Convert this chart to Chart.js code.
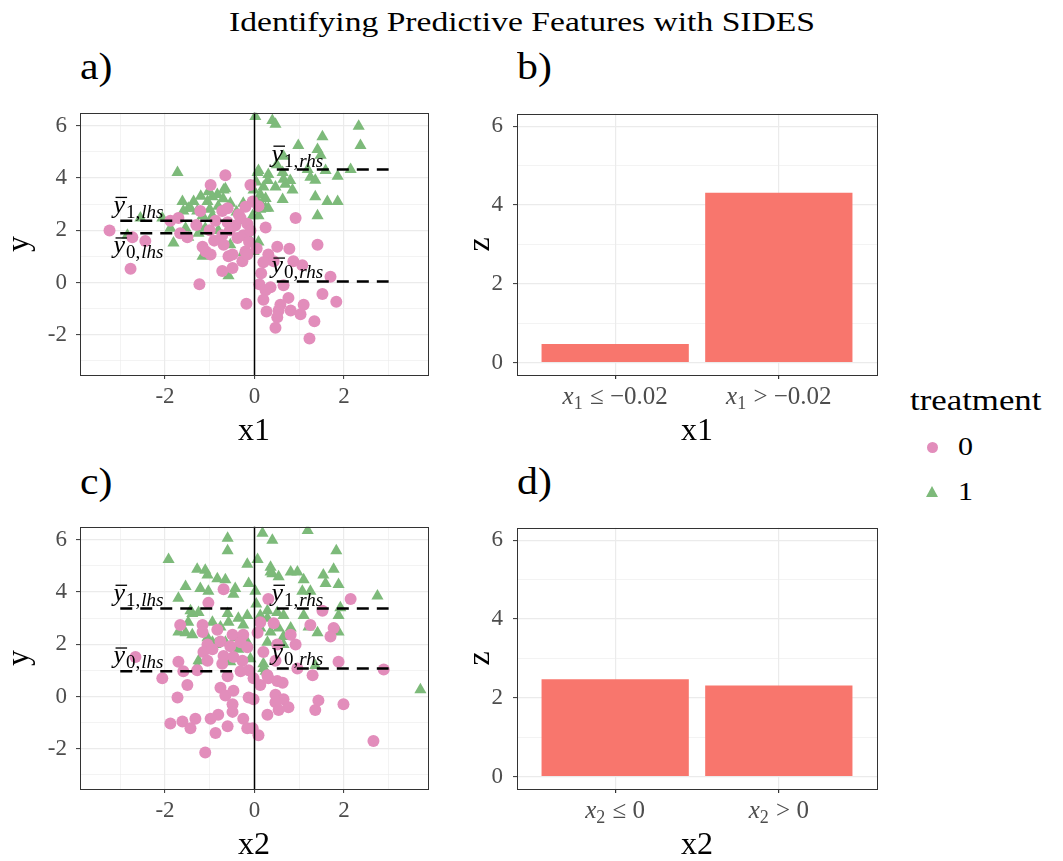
<!DOCTYPE html>
<html lang="en">
<head>
<meta charset="UTF-8">
<title>Identifying Predictive Features with SIDES</title>
<script src="https://cdn.jsdelivr.net/npm/chart.js@4.4.1/dist/chart.umd.min.js"></script>
<style>
    body {
        margin: 0;
        width: 1063px;
        height: 861px;
        overflow: hidden;
        background: #fff;
        position: relative;
        font-family: 'Liberation Serif', serif;
        color: #000;
    }
    .panel { position: absolute; width: 450px; height: 370px; }
    .tag { position: absolute; font-size: 38px; line-height: 1; transform: scaleX(1.1); transform-origin: left top; }
    #title { position: absolute; left: 0; top: 8px; width: 1044px; text-align: center; font-size: 28px; line-height: 1; transform: scaleX(1.2); transform-origin: 522px 0; }
    .legtxt { position: absolute; line-height: 1; transform: scaleX(1.2); transform-origin: left top; }
    .dot { position: absolute; width: 11px; height: 11px; border-radius: 50%; background: #E28DBB; }
    .tri { position: absolute; width: 0; height: 0; border-left: 6px solid transparent; border-right: 6px solid transparent; border-bottom: 11px solid #7DBA7A; }
</style>
</head>
<body>
<div id="title">Identifying Predictive Features with SIDES</div>
<div class="tag" style="left:80px;top:47px">a)</div>
<div class="tag" style="left:517px;top:47px">b)</div>
<div class="tag" style="left:80px;top:462px">c)</div>
<div class="tag" style="left:517px;top:462px">d)</div>

<div class="panel" style="left:0;top:90px;width:440px"><canvas id="chartA"></canvas></div>
<div class="panel" style="left:440px;top:90px"><canvas id="chartB"></canvas></div>
<div class="panel" style="left:0;top:504px;width:440px"><canvas id="chartC"></canvas></div>
<div class="panel" style="left:440px;top:504px"><canvas id="chartD"></canvas></div>

<div class="legtxt" style="left:910px;top:386px;font-size:29px">treatment</div>
<div class="dot" style="left:927px;top:442px"></div>
<div class="legtxt" style="left:958px;top:434px;font-size:25px">0</div>
<div class="tri" style="left:926px;top:486px"></div>
<div class="legtxt" style="left:958px;top:479px;font-size:25px">1</div>

<script>
// ---- data ----
const pinkA = [[-3.24,1.99],[-2.77,0.52],[-2.44,1.59],[-2.73,1.73],[-1.88,2.36],[-1.70,2.47],[-1.66,1.88],[-1.50,1.73],[-1.23,-0.07],[-1.16,1.37],[-1.09,1.18],[-0.98,1.07],[-0.98,3.73],[-0.65,4.10],[-0.72,2.73],[-0.60,2.84],[-0.72,1.81],[-0.69,1.44],[-0.72,0.44],[-0.49,0.55],[-0.58,1.00],[-0.49,1.07],[-0.38,1.70],[-0.25,1.81],[-0.43,2.18],[-0.31,2.47],[-0.16,2.25],[-0.09,1.99],[-0.20,1.18],[-0.27,0.81],[-0.16,1.07],[-0.09,3.73],[-0.18,-0.81],[0.25,2.10],[0.92,2.47],[0.31,1.07],[0.51,1.37],[0.78,1.29],[1.41,1.44],[0.43,0.81],[0.20,0.77],[0.87,0.81],[1.07,0.66],[1.70,0.22],[0.11,-0.07],[0.25,-0.30],[0.36,-0.18],[0.65,-0.11],[1.52,-0.44],[1.83,-0.74],[0.20,-0.66],[0.76,-0.59],[0.58,-0.85],[1.10,-0.85],[0.27,-1.11],[0.54,-1.07],[0.81,-1.07],[1.03,-1.22],[0.51,-1.33],[1.34,-1.48],[0.47,-1.73],[1.23,-2.14],[-0.04,3.10],[0.09,2.92],[-0.87,2.36],[-1.21,2.73],
    [-1.30,2.20],[-0.90,1.60],[-0.55,2.00],[-0.35,2.60],[-1.00,2.00],[-0.20,2.90],[-0.60,2.30],[-0.12,1.55],[0.05,1.30],[0.15,0.35]];
const greenA = [[-1.72,4.21],[-0.69,3.54],[-0.94,3.28],[-1.05,3.10],[-1.61,3.10],[-1.48,2.84],[-2.55,2.47],[-2.84,1.81],[-0.65,3.58],[-0.83,3.36],[-1.03,3.47],[-1.36,3.10],[-1.43,2.84],[-1.59,2.73],[-1.28,2.73],[-1.16,2.55],[-0.94,2.55],[-0.81,2.92],[-0.54,3.03],[-0.25,3.03],[-0.04,2.55],[-1.25,2.18],[-1.54,2.07],[-1.48,1.73],[-1.25,1.88],[-1.10,2.07],[-0.81,1.99],[-0.02,1.18],[-2.06,2.47],[-1.88,2.07],[-1.81,1.51],[-1.16,1.00],[-0.58,0.26],[-0.25,1.14],[-0.02,3.54],[-0.31,2.36],[-0.54,1.44],[-0.16,1.81],
    [-1.20,3.30],[-0.70,3.20],[-0.40,2.70],[-1.00,2.80],
    [0.02,6.35],[0.40,6.20],[0.47,6.05],[2.33,5.98],[1.52,5.57],[2.37,5.24],[0.98,5.24],[1.41,5.09],[1.48,4.87],[0.65,4.83],[0.07,4.21],[0.31,4.13],[0.63,4.21],[0.65,3.95],[1.19,4.32],[1.25,4.02],[1.36,3.91],[1.59,4.28],[1.86,4.06],[2.15,4.32],[0.69,3.76],[0.85,3.54],[0.20,3.65],[0.13,3.36],[0.07,3.10],[0.25,2.84],[1.36,3.28],[1.63,3.10],[1.86,3.10],[0.63,3.17],[1.41,2.55],[0.09,2.55],[0.09,4.28],[0.47,3.65],[0.25,3.21],[0.13,2.80],[0.31,2.84],[0.09,1.55],[0.04,3.84],
    [0.30,3.90],[0.50,4.50],[0.15,3.00],[0.80,3.90]];
const pinkC = [[-0.69,4.10],[-1.03,3.58],[-1.66,2.73],[-1.16,2.73],[-1.16,2.47],[-0.83,2.55],[-0.49,2.36],[-0.25,2.36],[-1.05,1.99],[-0.76,2.10],[-0.54,1.92],[-0.31,2.07],[-0.16,1.88],[-1.14,1.70],[-0.69,1.55],[-0.47,1.51],[-0.27,1.37],[-1.70,1.33],[-1.59,0.96],[-1.05,1.37],[-0.72,1.25],[-0.31,0.96],[-0.13,1.00],[-0.02,0.70],[0.31,3.73],[0.13,2.84],[0.43,2.80],[0.81,2.36],[0.51,1.99],[0.20,1.70],[0.47,1.37],[0.29,0.81],[0.92,1.99],[2.15,3.73],[1.52,3.28],[1.25,2.73],[1.77,2.62],[1.70,2.29],[0.07,2.44],[-2.66,1.51],[-2.06,0.70],[-1.50,0.44],[-1.72,-0.04],[-0.76,0.33],[-0.60,0.77],[-0.47,0.22],[-0.65,0.04],[-0.49,-0.30],[-0.13,-0.04],[-0.49,-0.59],[-0.81,-0.70],[-0.98,-0.85],[-1.32,-0.85],[-1.61,-0.96],[-1.43,-1.22],[-1.88,-1.03],[-0.60,-1.14],[-0.25,-0.85],[-0.16,-1.22],[-0.87,-1.40],[-1.10,-2.14],[1.88,1.33],[1.30,0.81],[0.96,1.07],[2.89,1.03],[0.13,0.44],[0.31,0.70],[0.51,0.59],[0.63,0.52],[0.47,0.07],[0.65,-0.11],[-0.02,-0.11],[0.47,-0.22],[0.76,-0.41],[0.54,-0.52],[0.29,-0.70],[1.36,-0.52],[1.43,-0.15],[1.99,-0.30],[-0.04,-1.22],[0.09,-1.48],[2.66,-1.70],[-1.28,1.00],[-0.94,1.81]];
const greenC = [[-0.60,6.05],[-0.60,5.57],[-1.92,5.24],[-1.28,4.87],[-1.10,4.83],[-1.05,4.65],[-0.83,4.50],[-0.65,4.46],[-0.16,5.06],[-0.13,4.32],[-1.54,4.21],[-1.21,4.13],[-1.03,4.02],[-0.47,3.91],[-1.70,3.76],[-1.39,3.17],[-1.25,3.21],[-1.48,2.84],[-0.60,3.17],[-0.36,2.99],[-0.16,3.10],[-0.94,2.84],[-0.76,2.66],[-0.58,2.84],[-0.25,2.73],[-1.70,2.47],[-1.54,2.44],[-0.87,1.99],[-1.39,2.36],[-1.05,2.25],[-0.94,2.07],[-0.65,2.07],[-0.43,2.25],[-0.36,1.81],[-0.16,2.07],[-1.25,1.37],[-1.28,1.14],[-0.09,1.44],[-0.54,1.33],[-0.43,4.13],[-1.43,3.28],
    [0.18,6.24],[0.40,5.98],[1.19,6.35],[0.07,5.24],[0.36,4.94],[0.40,4.69],[0.81,4.76],[0.96,4.76],[1.77,4.87],[1.54,4.65],[1.59,4.32],[1.88,4.28],[1.07,4.02],[1.25,4.02],[2.75,3.84],[0.02,4.02],[0.04,3.54],[0.13,3.10],[0.65,3.10],[1.10,3.10],[1.92,3.39],[1.88,3.10],[1.41,2.44],[1.88,2.47],[0.81,2.62],[0.65,1.99],[0.36,4.76],[0.54,4.58],[1.10,4.46],[0.29,3.28],[0.51,3.21],[0.29,2.99],[0.13,2.62],[0.36,2.47],[0.54,2.62],[0.65,2.29],[1.21,2.66],[0.29,2.07],[0.20,1.25],[0.25,0.96],[3.71,0.26],[1.36,1.18],[0.20,1.07],[1.83,5.57]];

// group means: [y1 lhs, y0 lhs, y1 rhs, y0 rhs]
const meansA = [2.36, 1.88, 4.32, 0.04];
const meansC = [3.36, 0.96, 3.36, 1.07];
const segLhs = [-3, -0.5];
const segRhs = [0.5, 3];
const splitX = 0;

// bar tick labels: [variable, subscript, rest]
const barLabelsB = [['x', '1', ' \u2264 \u22120.02'], ['x', '1', ' > \u22120.02']];
const barValuesB = [0.47, 4.31];
const barLabelsD = [['x', '2', ' \u2264 0'], ['x', '2', ' > 0']];
const barValuesD = [2.47, 2.31];

const xTicksScatter = [-3, -2, -1, 0, 1, 2, 3];
const yTicksScatter = [-3, -2, -1, 0, 1, 2, 3, 4, 5, 6];
const yTicksBar = [0, 1, 2, 3, 4, 5, 6];

const PINK = '#E28DBB', GREEN = '#7DBA7A', BAR = '#F8766D';
const GRID = '#EBEBEB', TICKTXT = '#4D4D4D', SERIF = "'Liberation Serif', serif";

Chart.defaults.font.family = SERIF;
Chart.defaults.color = TICKTXT;
Chart.defaults.animation = false;

const isMajor = v => v % 2 === 0;
const gridOpts = {
    color: GRID,
    lineWidth: c => (c.tick && isMajor(c.tick.value)) ? 1.2 : 0.6,
    tickLength: 4,
    tickWidth: 1,
    tickColor: c => (c.tick && isMajor(c.tick.value)) ? '#333333' : 'rgba(0,0,0,0)'
};

// frame, vertical split line, y-bar labels and math tick labels
const extras = {
    id: 'extras',
    afterDatasetsDraw(chart, args, opts) {
        const {ctx, chartArea: a, scales: {x, y}} = chart;
        ctx.save();
        if (opts.vline !== undefined) {
            const px = Math.round(x.getPixelForValue(opts.vline)) + 0.5;
            ctx.strokeStyle = '#000';
            ctx.lineWidth = 1.5;
            ctx.beginPath();
            ctx.moveTo(px, a.top);
            ctx.lineTo(px, a.bottom);
            ctx.stroke();
        }
        (opts.labels || []).forEach(l => {
            const px = x.getPixelForValue(l.x);
            const py = y.getPixelForValue(l.y);
            const base = l.below ? py + 20 : py - 8;
            ctx.fillStyle = '#000';
            ctx.font = 'italic 26px ' + SERIF;
            ctx.fillText('y', px, base);
            const w = ctx.measureText('y').width;
            ctx.fillRect(px + 2, base - 16, w, 1.3);
            ctx.font = '19px ' + SERIF;
            ctx.fillText(l.num + ',', px + w + 1, base + 5);
            const w2 = ctx.measureText(l.num + ',').width;
            ctx.font = 'italic 19px ' + SERIF;
            ctx.fillText(l.side, px + w + 2 + w2, base + 5);
        });
        (opts.mathTicks || []).forEach((parts, i) => {
            const cx = x.getPixelForValue(i + 1);
            const base = a.bottom + 29;
            ctx.fillStyle = TICKTXT;
            ctx.font = 'italic 25px ' + SERIF;
            const w1 = ctx.measureText(parts[0]).width;
            ctx.font = '18px ' + SERIF;
            const w2 = ctx.measureText(parts[1]).width;
            ctx.font = '25px ' + SERIF;
            const w3 = ctx.measureText(parts[2]).width;
            let px = cx - (w1 + w2 + w3 + 1) / 2;
            ctx.font = 'italic 25px ' + SERIF;
            ctx.fillText(parts[0], px, base);
            px += w1;
            ctx.font = '18px ' + SERIF;
            ctx.fillText(parts[1], px, base + 5);
            px += w2 + 1;
            ctx.font = '25px ' + SERIF;
            ctx.fillText(parts[2], px, base);
        });
        ctx.restore();
    },
    afterDraw(chart) {
        const {ctx, chartArea: a} = chart;
        ctx.save();
        ctx.strokeStyle = '#333333';
        ctx.lineWidth = 1;
        ctx.strokeRect(Math.round(a.left) + 0.5, Math.round(a.top) + 0.5, Math.round(a.right - a.left), Math.round(a.bottom - a.top));
        ctx.restore();
    }
};

function seg(xs, m) {
    return {
        data: [{x: xs[0], y: m}, {x: xs[1], y: m}],
        showLine: true, borderColor: '#000', borderWidth: 2.5, borderDash: [12, 8],
        pointRadius: 0
    };
}

function makeScatter(id, pink, green, means, xTitle) {
    new Chart(document.getElementById(id), {
        type: 'scatter',
        data: {
            datasets: [
                seg(segLhs, means[0]), seg(segLhs, means[1]), seg(segRhs, means[2]), seg(segRhs, means[3]),
                {data: pink.map(p => ({x: p[0], y: p[1]})), pointStyle: 'circle', pointRadius: 6,
                 backgroundColor: PINK, borderWidth: 0},
                {data: green.map(p => ({x: p[0], y: p[1]})), pointStyle: 'triangle', pointRadius: 7,
                 backgroundColor: GREEN, borderWidth: 0}
            ]
        },
        options: {
            responsive: true,
            maintainAspectRatio: false,
            layout: {padding: {top: 13, right: 12, left: 0, bottom: 0}},
            plugins: {
                legend: {display: false},
                tooltip: {enabled: false},
                extras: {
                    vline: splitX,
                    labels: [
                        {x: -3.15, y: means[0], num: '1', side: 'lhs', below: false},
                        {x: -3.15, y: means[1], num: '0', side: 'lhs', below: means[1] < means[0] && means[0] - means[1] < 1},
                        {x: 0.38, y: means[2], num: '1', side: 'rhs', below: false},
                        {x: 0.38, y: means[3], num: '0', side: 'rhs', below: false}
                    ]
                }
            },
            scales: {
                x: {
                    type: 'linear', min: -3.9, max: 3.88,
                    afterBuildTicks: s => { s.ticks = xTicksScatter.map(v => ({value: v})); },
                    afterFit: s => { s.height = 85; },
                    ticks: {autoSkip: false, maxRotation: 0, padding: 4, font: {size: 23},
                            callback: v => isMajor(v) ? String(v) : ''},
                    grid: gridOpts,
                    border: {display: false},
                    title: {display: true, text: xTitle, color: '#000', font: {size: 32}, padding: {top: 0, bottom: 9}}
                },
                y: {
                    type: 'linear', min: -3.54, max: 6.49,
                    afterBuildTicks: s => { s.ticks = yTicksScatter.map(v => ({value: v})); },
                    afterFit: s => { s.width = 80; },
                    ticks: {autoSkip: false, padding: 9, font: {size: 23},
                            callback: v => isMajor(v) ? String(v) : ''},
                    grid: gridOpts,
                    border: {display: false},
                    title: {display: true, text: 'y', color: '#000', font: {size: 32}, padding: {top: 0, bottom: 0}}
                }
            }
        },
        plugins: [extras]
    });
}

function makeBars(id, labels, values, xTitle) {
    new Chart(document.getElementById(id), {
        type: 'bar',
        data: {
            datasets: [{
                data: values.map((v, i) => ({x: i + 1, y: v})),
                backgroundColor: BAR,
                categoryPercentage: 0.9,
                barPercentage: 1
            }]
        },
        options: {
            responsive: true,
            maintainAspectRatio: false,
            layout: {padding: {top: 13, right: 13, left: 0, bottom: 0}},
            plugins: {legend: {display: false}, tooltip: {enabled: false}, extras: {mathTicks: labels}},
            scales: {
                x: {
                    type: 'linear', min: 0.4, max: 2.6, offset: false,
                    afterBuildTicks: s => { s.ticks = labels.map((l, i) => ({value: i + 1})); },
                    afterFit: s => { s.height = 85; },
                    ticks: {display: false},
                    grid: {color: GRID, lineWidth: 1.2, offset: false, tickLength: 4, tickColor: '#333333'},
                    border: {display: false},
                    title: {display: true, text: xTitle, color: '#000', font: {size: 32}, padding: {top: 0, bottom: 9}}
                },
                y: {
                    type: 'linear', min: -0.317, max: 6.317,
                    afterBuildTicks: s => { s.ticks = yTicksBar.map(v => ({value: v})); },
                    afterFit: s => { s.width = 77; },
                    ticks: {autoSkip: false, padding: 10, font: {size: 23},
                            callback: v => isMajor(v) ? String(v) : ''},
                    grid: gridOpts,
                    border: {display: false},
                    title: {display: true, text: 'z', color: '#000', font: {size: 32}, padding: {top: 21, bottom: 0}}
                }
            }
        },
        plugins: [extras]
    });
}

makeScatter('chartA', pinkA, greenA, meansA, 'x1');
makeBars('chartB', barLabelsB, barValuesB, 'x1');
makeScatter('chartC', pinkC, greenC, meansC, 'x2');
makeBars('chartD', barLabelsD, barValuesD, 'x2');
</script>
</body>
</html>
